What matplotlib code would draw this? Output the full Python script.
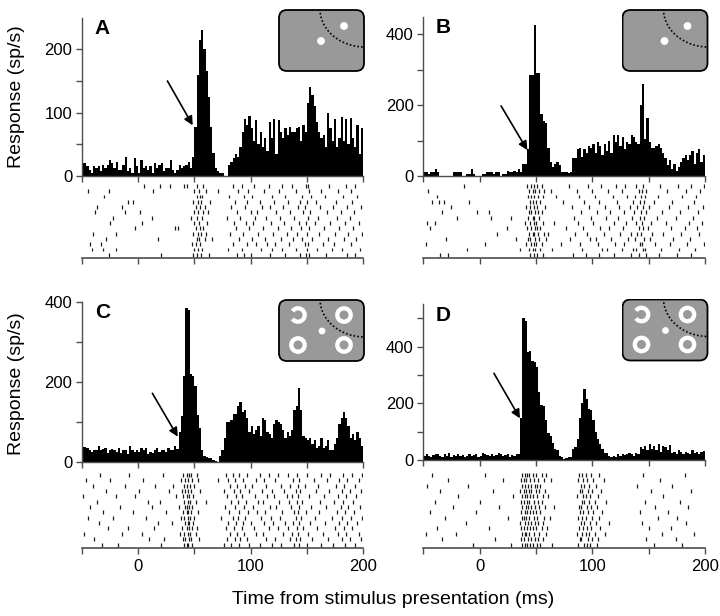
import numpy as np
import matplotlib
matplotlib.use('Agg')
import matplotlib.pyplot as plt
from matplotlib.patches import FancyBboxPatch, Circle, Arc

plt.rcParams['font.family'] = ['Liberation Sans', 'DejaVu Sans']

# bin edges of the PSTHs (ms), 2 ms bins
edges = np.arange(-50, 201, 2)

# firing rates (sp/s) per bin
rate_a = [20, 20, 15, 10, 5, 15, 12, 15, 8, 18,
          12, 18, 25, 20, 12, 22, 10, 10, 18, 30,
          8, 12, 5, 28, 15, 5, 25, 12, 15, 10,
          15, 5, 20, 12, 18, 20, 8, 12, 12, 25,
          10, 5, 10, 18, 12, 15, 18, 22, 12, 30,
          78, 160, 215, 230, 200, 165, 125, 78, 36, 12,
          8, 5, 5, 0, 0, 18, 22, 28, 35, 30,
          45, 70, 90, 80, 95, 75, 55, 88, 50, 70,
          45, 60, 40, 85, 60, 90, 35, 88, 70, 60,
          75, 65, 78, 70, 70, 75, 78, 55, 80, 70,
          115, 140, 128, 110, 85, 70, 60, 65, 45, 100,
          75, 55, 90, 45, 60, 93, 55, 90, 50, 92,
          60, 45, 80, 35, 75]

rate_b = [10, 10, 5, 10, 10, 20, 10, 0, 0, 0,
          0, 0, 0, 10, 10, 10, 10, 0, 0, 5,
          5, 20, 5, 0, 0, 0, 5, 5, 10, 10,
          10, 5, 10, 10, 0, 5, 5, 15, 10, 10,
          15, 10, 20, 10, 35, 35, 75, 285, 285, 425,
          290, 290, 175, 155, 150, 80, 40, 25, 35, 40,
          30, 10, 12, 10, 8, 12, 50, 50, 75, 80,
          55, 75, 65, 85, 80, 90, 65, 95, 85, 60,
          90, 70, 100, 65, 115, 95, 115, 85, 110, 75,
          95, 90, 115, 110, 95, 90, 200, 260, 105, 165,
          95, 80, 80, 85, 90, 80, 65, 50, 30, 45,
          20, 35, 15, 25, 40, 50, 60, 45, 60, 70,
          35, 65, 75, 40, 60]

rate_c = [37, 37, 35, 28, 25, 30, 30, 40, 28, 32,
          35, 22, 30, 32, 28, 25, 35, 22, 30, 28,
          20, 38, 30, 25, 30, 25, 35, 30, 35, 20,
          25, 22, 30, 35, 25, 30, 28, 25, 35, 30,
          28, 40, 32, 75, 115, 215, 385, 380, 220, 215,
          190, 117, 83, 30, 15, 12, 10, 8, 5, 2,
          0, 15, 30, 60, 100, 100, 105, 120, 120, 140,
          150, 125, 130, 110, 75, 90, 70, 80, 90, 65,
          110, 105, 75, 70, 60, 95, 105, 100, 95, 80,
          60, 75, 65, 80, 130, 140, 185, 130, 65, 60,
          55, 60, 45, 55, 35, 40, 60, 35, 40, 55,
          30, 30, 45, 60, 95, 110, 125, 110, 90, 60,
          70, 55, 75, 60, 40]

rate_d = [15, 20, 15, 12, 18, 20, 22, 15, 12, 20,
          15, 25, 12, 18, 15, 20, 15, 18, 12, 15,
          20, 15, 18, 22, 12, 15, 25, 20, 18, 15,
          22, 15, 18, 25, 20, 15, 18, 22, 12, 18,
          15, 20, 20, 150, 500, 490, 380, 385, 350, 345,
          330, 240, 195, 190, 140, 95, 85, 60, 40, 35,
          15, 10, 5, 8, 12, 10, 40, 45, 75, 150,
          200, 250, 215, 180, 175, 140, 100, 75, 55, 40,
          25, 25, 15, 10, 15, 10, 20, 15, 22, 18,
          20, 25, 20, 15, 25, 22, 45, 40, 50, 35,
          55, 40, 48, 35, 55, 30, 50, 45, 35, 52,
          25, 30, 20, 35, 28, 22, 30, 25, 20, 35,
          25, 30, 20, 28, 32]

# spike times (ms) per trial for the rasters
spikes_a = [
    [5, 19, 28, 41, 43, 52, 58, 84, 92, 103, 116, 128, 137, 149, 151, 170, 185, 193],
    [-45, -26, 13, 50, 54, 60, 71, 89, 98, 112, 125, 140, 152, 163, 178, 189],
    [-30, 52, 55, 57, 81, 94, 101, 119, 131, 146, 154, 166, 182, 195],
    [-9, -5, 49, 53, 56, 64, 86, 97, 108, 121, 133, 144, 150, 158, 176, 190],
    [-37, -14, 51, 55, 59, 83, 95, 110, 117, 129, 142, 148, 162, 173, 186, 198],
    [-38, -12, 2, 50, 53, 58, 62, 88, 100, 106, 123, 135, 147, 153, 168, 180, 192],
    [-22, 12, 47, 52, 57, 79, 91, 104, 114, 126, 139, 151, 160, 177, 188],
    [-25, 3, 50, 54, 61, 85, 96, 102, 118, 130, 143, 149, 157, 171, 184, 196],
    [-3, 33, 35, 51, 55, 58, 87, 99, 111, 124, 136, 145, 152, 165, 179, 191],
    [-40, -20, 49, 53, 56, 60, 82, 93, 107, 120, 132, 141, 150, 161, 175, 187, 199],
    [-29, 18, 52, 54, 59, 66, 90, 101, 113, 127, 138, 146, 155, 169, 183, 194],
    [-43, -33, 48, 51, 55, 84, 97, 105, 115, 122, 134, 148, 151, 164, 174, 189],
    [-41, -31, -20, 50, 53, 57, 80, 92, 109, 119, 128, 140, 150, 159, 172, 181, 197],
    [-26, 20, 49, 52, 56, 63, 88, 94, 100, 117, 131, 144, 149, 152, 167, 186, 193],
]

spikes_b = [
    [-14, 42, 46, 48, 51, 55, 79, 96, 108, 121, 129, 139, 145, 160, 176, 188, 199],
    [-46, 44, 47, 49, 53, 57, 63, 86, 100, 114, 126, 141, 144, 148, 166, 183, 196],
    [-38, 43, 46, 48, 52, 56, 68, 88, 102, 118, 131, 138, 143, 147, 158, 180, 192],
    [-42, -36, -32, -9, 45, 47, 50, 54, 74, 93, 106, 122, 136, 142, 146, 155, 171, 190],
    [-25, 41, 45, 48, 51, 58, 82, 97, 111, 124, 133, 140, 145, 150, 168, 185, 198],
    [-33, -2, 8, 44, 46, 49, 52, 55, 90, 104, 116, 128, 137, 143, 148, 162, 178, 194],
    [-20, 10, 28, 43, 47, 48, 53, 84, 99, 112, 123, 135, 142, 146, 157, 174, 189],
    [-47, -40, 40, 45, 48, 50, 56, 66, 87, 101, 119, 130, 139, 144, 152, 165, 186, 197],
    [-44, 24, 42, 46, 49, 51, 54, 77, 92, 107, 115, 127, 141, 145, 149, 170, 182, 193],
    [15, 44, 47, 48, 52, 57, 61, 85, 95, 110, 125, 134, 140, 143, 153, 163, 179, 195],
    [-30, 32, 43, 45, 49, 53, 59, 80, 98, 103, 117, 132, 138, 146, 151, 172, 187],
    [-48, 5, 41, 46, 48, 50, 55, 72, 89, 105, 120, 128, 142, 144, 156, 169, 184, 199],
    [-11, 36, 44, 47, 49, 54, 64, 91, 109, 113, 126, 136, 139, 145, 147, 161, 177, 191],
    [-35, -28, 45, 48, 51, 56, 83, 94, 106, 119, 134, 141, 148, 159, 175, 188],
]

spikes_c = [
    [-34, -8, 22, 40, 43, 45, 47, 52, 78, 84, 90, 97, 108, 116, 124, 133, 141, 150, 163, 171, 182, 190, 199],
    [-46, -25, 4, 38, 42, 44, 48, 53, 71, 80, 86, 93, 105, 112, 122, 138, 143, 156, 168, 179, 186, 196],
    [-40, -12, 15, 31, 41, 43, 46, 50, 82, 88, 95, 101, 114, 127, 135, 142, 148, 160, 176, 183, 193],
    [-29, 1, 27, 39, 42, 44, 47, 55, 76, 85, 91, 99, 110, 119, 130, 140, 144, 158, 170, 181, 188, 198],
    [-49, -20, -3, 34, 40, 43, 45, 49, 79, 87, 92, 104, 115, 121, 132, 137, 142, 152, 165, 178, 185, 194],
    [-37, 9, 19, 41, 44, 46, 51, 60, 83, 89, 96, 107, 111, 125, 134, 141, 146, 162, 174, 182, 191],
    [-43, -16, 12, 36, 42, 43, 45, 48, 77, 86, 94, 102, 117, 123, 136, 143, 154, 167, 180, 187, 197],
    [-31, -5, 25, 40, 43, 44, 47, 53, 81, 90, 98, 106, 113, 128, 139, 142, 149, 161, 177, 184, 192],
    [-45, -22, 7, 38, 41, 44, 46, 50, 74, 84, 89, 95, 109, 118, 126, 140, 145, 157, 172, 181, 189, 199],
    [-35, 18, 30, 42, 44, 45, 49, 80, 87, 93, 100, 112, 120, 131, 138, 143, 153, 166, 179, 186, 195],
    [-27, -9, 14, 39, 43, 45, 48, 52, 78, 85, 92, 103, 116, 124, 133, 141, 147, 159, 175, 183, 190],
    [-48, -14, 3, 37, 41, 44, 46, 51, 82, 88, 94, 105, 111, 129, 137, 142, 151, 164, 178, 185, 196],
    [-39, 10, 23, 40, 42, 45, 47, 54, 79, 86, 91, 97, 114, 122, 135, 140, 144, 155, 169, 181, 188, 198],
    [-32, -18, 20, 41, 43, 44, 48, 76, 83, 90, 99, 108, 119, 127, 139, 143, 150, 163, 173, 184, 193],
]

spikes_d = [
    [-42, 5, 38, 40, 42, 44, 47, 50, 55, 59, 88, 91, 94, 99, 106, 145, 182],
    [-28, 21, 37, 39, 41, 45, 48, 52, 57, 63, 87, 92, 95, 101, 110, 160],
    [-47, -10, 38, 40, 43, 46, 49, 51, 54, 90, 93, 97, 103, 140, 171],
    [-35, 12, 36, 39, 41, 44, 46, 50, 53, 58, 89, 91, 96, 100, 108, 152, 188],
    [-19, 30, 38, 40, 42, 45, 47, 51, 56, 61, 86, 92, 94, 98, 105, 163],
    [-40, 0, 37, 39, 42, 44, 48, 52, 55, 91, 93, 97, 102, 112, 147, 178],
    [-24, 17, 38, 41, 43, 46, 49, 53, 58, 66, 88, 90, 95, 99, 104, 156, 185],
    [-44, -3, 37, 40, 42, 45, 47, 50, 54, 89, 92, 96, 101, 109, 142, 167],
    [-31, 25, 38, 39, 41, 44, 48, 51, 57, 62, 87, 91, 94, 100, 106, 158, 175],
    [-12, 36, 40, 43, 46, 49, 52, 56, 90, 93, 98, 103, 115, 144, 183],
    [-38, 8, 37, 39, 42, 45, 47, 50, 55, 60, 88, 92, 95, 99, 107, 150, 170],
    [-48, -21, 38, 40, 41, 44, 48, 53, 59, 86, 91, 94, 97, 102, 111, 162, 190],
    [-33, 14, 37, 39, 43, 46, 49, 52, 56, 89, 90, 96, 100, 105, 148, 174],
    [-6, 28, 38, 40, 42, 45, 47, 51, 54, 64, 87, 93, 95, 98, 104, 155, 180],
]

W, H = 720, 616
fig = plt.figure(figsize=(W / 100, H / 100), dpi=100)
axis_col = '#4d4d4d'


def px_axes(x0, y0, x1, y1):
    return fig.add_axes([x0 / W, 1 - y1 / H, (x1 - x0) / W, (y1 - y0) / H])


def style_ticks(ax):
    ax.set_xlim(-50, 200)
    ax.set_xticks([0, 100, 200])
    ax.set_xticks([-50, 50, 150], minor=True)
    ax.tick_params(which='both', direction='out', length=4, width=1,
                   color=axis_col, labelsize=12, pad=3)


def hist_panel(box, rates, ymax, major, minor, letter, arrow):
    ax = px_axes(*box)
    ax.stairs(rates, edges, fill=True, color='black', lw=0)
    style_ticks(ax)
    ax.set_ylim(0, ymax)
    ax.set_yticks(major)
    ax.set_yticks(minor, minor=True)
    ax.tick_params(axis='x', labelbottom=False)
    for s in ['top', 'right']:
        ax.spines[s].set_visible(False)
    for s in ['left', 'bottom']:
        ax.spines[s].set_color(axis_col)
        ax.spines[s].set_linewidth(1)
    ax.text(0.045, 0.99, letter, transform=ax.transAxes, ha='left', va='top',
            fontsize=15, fontweight='bold')
    (x0, y0), (x1, y1) = arrow
    ax.annotate('', xy=(x1, y1), xytext=(x0, y0),
                arrowprops=dict(arrowstyle='-|>', color='black', lw=1.2,
                                mutation_scale=13, shrinkA=0, shrinkB=0))
    return ax


def raster_panel(box, spikes, labels):
    ax = px_axes(*box)
    n = len(spikes)
    ax.eventplot(spikes, lineoffsets=np.arange(n)[::-1], linelengths=0.75,
                 colors='#1a1a1a', linewidths=0.9)
    style_ticks(ax)
    ax.set_ylim(-0.55, n - 0.45)
    ax.set_yticks([])
    for s in ['top', 'right', 'left']:
        ax.spines[s].set_visible(False)
    ax.spines['bottom'].set_color(axis_col)
    ax.spines['bottom'].set_linewidth(1.2)
    ax.tick_params(axis='x', labelbottom=labels, pad=4)
    return ax


def inset(x, y, rings):
    w, h = 87, 63
    ax = px_axes(x, y, x + w, y + h)
    ax.set_xlim(0, w)
    ax.set_ylim(h, 0)
    ax.axis('off')
    box = FancyBboxPatch((1, 1), w - 2, h - 2,
                         boxstyle='round,pad=0,rounding_size=8',
                         fc='#999999', ec='black', lw=1.3)
    ax.add_patch(box)
    t = np.linspace(0, np.pi / 2, 60)
    ax.plot(w - 45 * np.cos(t), 38 * np.sin(t), color='black', lw=1.2,
            dashes=(1, 1.3), clip_path=box)
    if rings:
        for cx, cy in [(66, 16), (20, 46), (66, 46)]:
            ax.add_patch(Circle((cx, cy), 6.7, fill=False, ec='white', lw=3.1))
        ax.add_patch(Arc((20, 16), 13.4, 13.4, theta1=-145, theta2=145,
                         color='white', lw=3.1))
        ax.add_patch(Circle((44, 32), 2.7, color='white'))
    else:
        ax.add_patch(Circle((66, 17), 3.2, color='white'))
        ax.add_patch(Circle((43, 32), 3.2, color='white'))


hist_panel((82, 17.6, 363, 176), rate_a, 250, [0, 100, 200], [50, 150], 'A',
           ((26, 150), (48.5, 80)))
hist_panel((423.3, 16.6, 705, 176), rate_b, 450, [0, 200, 400], [100, 300], 'B',
           ((19, 198), (42.3, 73)))
hist_panel((82, 301.7, 363, 461.7), rate_c, 400, [0, 200, 400], [100, 300], 'C',
           ((12.6, 171), (35.2, 62.5)))
hist_panel((423.3, 304.2, 705, 460), rate_d, 550, [0, 200, 400], [100, 300, 500], 'D',
           ((12.7, 306), (35.8, 147)))

raster_panel((82, 183, 363, 257.7), spikes_a, False)
raster_panel((423.3, 183, 705, 257.7), spikes_b, False)
raster_panel((82, 472, 363, 547.5), spikes_c, True)
raster_panel((423.3, 472, 705, 547.5), spikes_d, True)

inset(278, 9, False)
inset(621.5, 9, False)
inset(278, 299, True)
inset(621.5, 298.5, True)

fig.text(17 / W, 1 - 97 / H, 'Response (sp/s)', rotation=90, ha='center',
         va='center', fontsize=14)
fig.text(17 / W, 1 - 384 / H, 'Response (sp/s)', rotation=90, ha='center',
         va='center', fontsize=14)
fig.text(393 / W, 1 - 600 / H, 'Time from stimulus presentation (ms)',
         ha='center', va='center', fontsize=14)

fig.savefig('out.png', dpi=100)
